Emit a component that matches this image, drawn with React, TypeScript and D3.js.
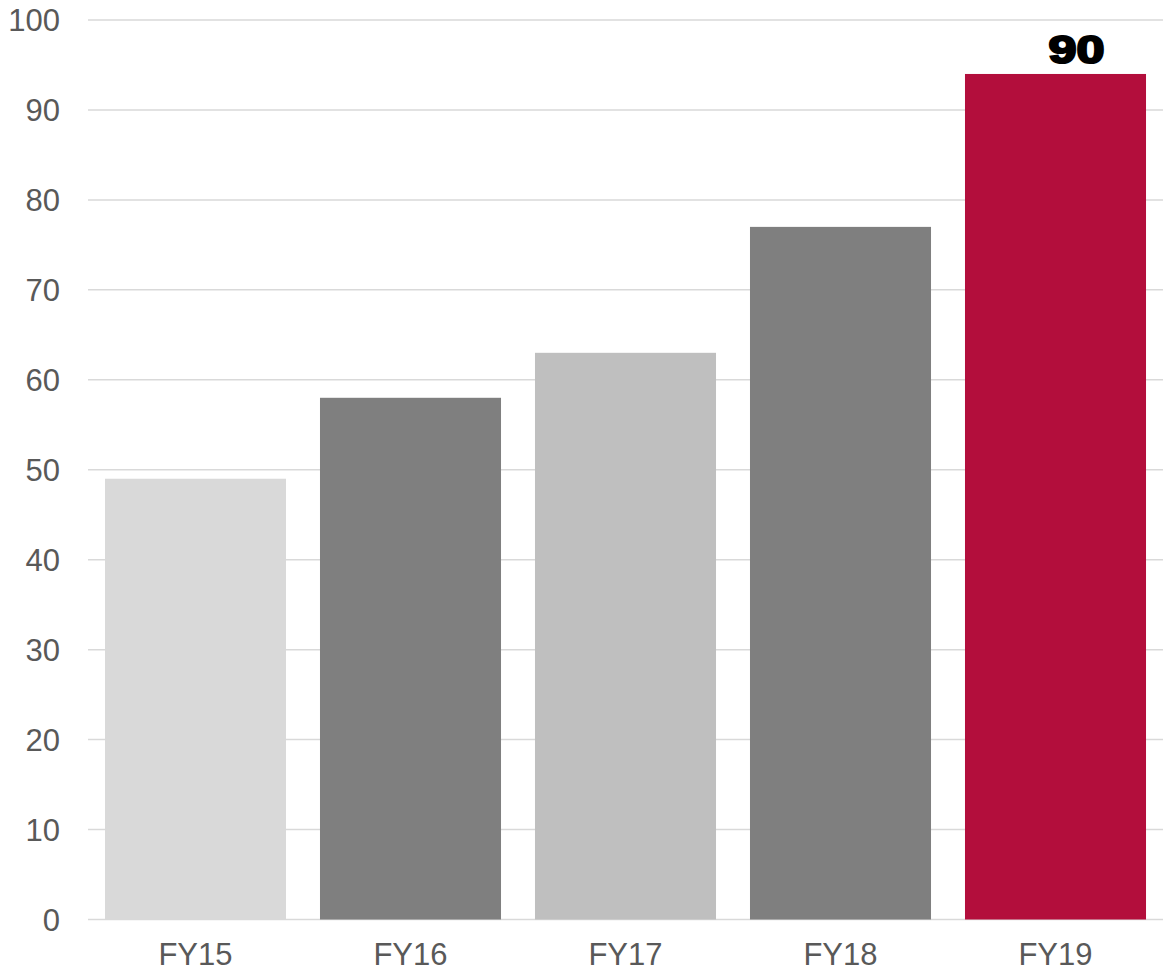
import React from "react";
import * as d3 from "d3";

const categories = ["FY15", "FY16", "FY17", "FY18", "FY19"];
const values = [49, 58, 63, 77, 94];
const barColors = ["#d9d9d9", "#7f7f7f", "#bfbfbf", "#7f7f7f", "#b30e3c"];
const yTicks = [0, 10, 20, 30, 40, 50, 60, 70, 80, 90, 100];
const dataLabelText = "90";
const labelIndex = 4;

const W = 1167;
const H = 973;

export default function App() {
  const x = d3
    .scaleBand<string>()
    .domain(categories)
    .range([88, 1163])
    .paddingInner(0.158)
    .paddingOuter(0.079);
  const y = d3.scaleLinear().domain([0, 100]).range([919.5, 20]);
  const font = "'Liberation Sans', Arial, sans-serif";
  const labelCx = (x(categories[labelIndex]) as number) + x.bandwidth() / 2 + 21;
  return (
    <div style={{ position: "absolute", left: 0, top: 0 }}>
      <svg width={W} height={H} style={{ display: "block" }}>
        <rect width={W} height={H} fill="#fff" />
        {yTicks.map((t) => (
          <g key={t}>
            <line x1={88} x2={1163} y1={y(t)} y2={y(t)} stroke="#d9d9d9" strokeWidth={1.5} />
            <text
              x={60}
              y={y(t)}
              dy="0.36em"
              textAnchor="end"
              fontFamily={font}
              fontSize={31}
              fill="#595959"
            >
              {t}
            </text>
          </g>
        ))}
        {categories.map((c, i) => (
          <rect
            key={c}
            x={x(c)}
            y={y(values[i])}
            width={x.bandwidth()}
            height={y(0) - y(values[i])}
            fill={barColors[i]}
          />
        ))}
        {categories.map((c) => (
          <text
            key={c}
            x={(x(c) as number) + x.bandwidth() / 2}
            y={965}
            textAnchor="middle"
            fontFamily={font}
            fontSize={31}
            fill="#595959"
          >
            {c}
          </text>
        ))}
        <text
          x={labelCx - 28}
          y={63}
          fontFamily={font}
          fontWeight="bold"
          fontSize={39}
          fill="#000"
          stroke="#000"
          strokeWidth={2.2}
          textLength={56}
          lengthAdjust="spacingAndGlyphs"
        >
          {dataLabelText}
        </text>
      </svg>
    </div>
  );
}
